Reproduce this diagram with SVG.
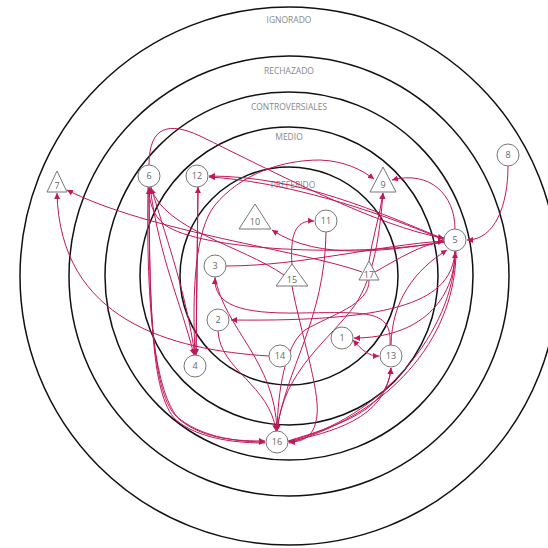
<svg xmlns="http://www.w3.org/2000/svg" width="548" height="548" viewBox="0 0 548 548">
<defs>
<marker id="ah" markerUnits="userSpaceOnUse" markerWidth="7" markerHeight="7" refX="6" refY="3.5" orient="auto-start-reverse">
<path d="M0,0.5 L6,3.5 L0,6.5 Z" fill="#c2185b"/>
</marker>
<style>
.ring{fill:none;stroke:#111;stroke-width:1.5}
.rl{font-family:"Open Sans","Liberation Sans",sans-serif;font-size:8.5px;fill:#888;text-anchor:middle}
.e{fill:none;stroke:#c2185b;stroke-width:1;marker-end:url(#ah)}
.b{marker-start:url(#ah)}
.n{fill:#fff;stroke:#777;stroke-width:1}
.t{font-family:"Open Sans","Liberation Sans",sans-serif;font-size:9px;fill:#666;text-anchor:middle}
</style>
</defs>
<rect width="548" height="548" fill="#fff"/>
<g id="rings">
<circle class="ring" cx="289" cy="276" r="269"/>
<circle class="ring" cx="289" cy="276" r="220"/>
<circle class="ring" cx="289" cy="276" r="184"/>
<circle class="ring" cx="289" cy="276" r="149"/>
<circle class="ring" cx="289" cy="276" r="109"/>
<text class="rl" x="289" y="22.5">IGNORADO</text>
<text class="rl" x="289" y="74">RECHAZADO</text>
<text class="rl" x="289" y="110">CONTROVERSIALES</text>
<text class="rl" x="289" y="140">MEDIO</text>
<text class="rl" x="293" y="188">PREFERIDO</text>
</g>
<g id="connectors">
<path class="e" d="M508,166 C508,205 495,240 467,240"/>
<path class="e" d="M455,229 C455,195 430,170 392,180"/>
<path class="e" d="M149,165 C149,125 170,122 200,136 C270,170 380,228 444,238"/>
<path class="e" d="M444,239 C380,213 300,176 209,176"/>
<path class="e" d="M444,240 C370,208 280,181 209,177"/>
<path class="e" d="M362,272 C300,250 150,232 67,190"/>
<path class="e" d="M269,356 C170,350 60,320 57,193"/>
<path class="e" d="M444,242 C390,250 320,262 272,230"/>
<path class="e" d="M292,265 C290,235 295,220 314,221"/>
<path class="e" d="M226,266 C300,266 380,245 444,241"/>
<path class="e" d="M369,261 C372,240 380,215 383,193"/>
<path class="e" d="M277,431 C283,370 330,340 355,305 C375,275 380,230 383,193"/>
<path class="e" d="M375,272 C400,258 420,245 444,241"/>
<path class="e" d="M455,251 C452,300 400,322 231,320"/>
<path class="e" d="M455,251 C455,300 420,338 354,338"/>
<path class="e b" d="M353,340 C362,350 368,356 379,356"/>
<path class="e" d="M391,345 C392,300 415,270 447,250"/>
<path class="e" d="M390,345 C392,310 370,312 300,313 C240,314 214,305 215,278"/>
<path class="e" d="M288,442 C330,432 386,420 391,368"/>
<path class="e" d="M288,441 C340,425 388,410 391,368"/>
<path class="e" d="M456,251 C456,330 400,410 289,443"/>
<path class="e" d="M289,441 C380,420 455,330 455,252"/>
<path class="e" d="M198,187 L196,355"/>
<path class="e" d="M196,355 L198,187"/>
<path class="e" d="M150,187 C160,260 180,300 194,355"/>
<path class="e" d="M151,187 C170,250 185,290 195,355"/>
<path class="e" d="M149,187 C149,300 152,390 175,415 C200,438 240,442 265,442"/>
<path class="e" d="M148,187 C146,310 155,395 180,420 C205,440 240,441 265,441"/>
<path class="e" d="M265,443 C240,443 200,440 176,420 C150,395 150,300 149,188"/>
<path class="e" d="M218,331 C220,370 270,385 276,431"/>
<path class="e" d="M215,277 C225,330 275,360 277,431"/>
<path class="e" d="M326,232 C325,320 285,370 277,431"/>
<path class="e" d="M292,286 C300,330 320,390 317,415 C315,435 305,442 289,442"/>
<path class="e" d="M369,280 C370,305 330,315 305,330 C285,345 278,390 277,431"/>
<path class="e" d="M284,275 C240,245 165,230 151,188"/>
<path class="e" d="M444,242 C350,258 200,250 165,225 C152,215 149,200 149,188"/>
<path class="e" d="M195,355 C192,290 195,230 215,205 C240,175 280,160 320,160 C345,161 362,170 374,179"/>
</g>
<g id="n1"><circle class="n" cx="342" cy="338" r="11"/><text class="t" x="342" y="341">1</text></g>
<g id="n2"><circle class="n" cx="218" cy="320" r="11"/><text class="t" x="218" y="323">2</text></g>
<g id="n3"><circle class="n" cx="215" cy="266" r="11"/><text class="t" x="215" y="269">3</text></g>
<g id="n4"><circle class="n" cx="195" cy="366" r="11"/><text class="t" x="195" y="369">4</text></g>
<g id="n5"><circle class="n" cx="455" cy="240" r="11"/><text class="t" x="455" y="243">5</text></g>
<g id="n6"><circle class="n" cx="149" cy="176" r="11"/><text class="t" x="149" y="179">6</text></g>
<g id="n7"><polygon class="n" points="57,171 67,192 47,192"/><text class="t" x="57" y="189">7</text></g>
<g id="n8"><circle class="n" cx="508" cy="155" r="11"/><text class="t" x="508" y="158">8</text></g>
<g id="n9"><polygon class="n" points="383,167 396,192 370,192"/><text class="t" x="383" y="188">9</text></g>
<g id="n10"><polygon class="n" points="255,204 271,229 239,229"/><text class="t" x="255" y="225">10</text></g>
<g id="n11"><circle class="n" cx="326" cy="221" r="11"/><text class="t" x="326" y="224">11</text></g>
<g id="n12"><circle class="n" cx="197" cy="176" r="11"/><text class="t" x="197" y="179">12</text></g>
<g id="n13"><circle class="n" cx="391" cy="356" r="11"/><text class="t" x="391" y="359">13</text></g>
<g id="n14"><circle class="n" cx="280" cy="356" r="11"/><text class="t" x="280" y="359">14</text></g>
<g id="n15"><polygon class="n" points="292,264 308,286 276,286"/><text class="t" x="292" y="283">15</text></g>
<g id="n16"><circle class="n" cx="277" cy="442" r="11"/><text class="t" x="277" y="445">16</text></g>
<g id="n17"><polygon class="n" points="369,261 379,280 359,280"/><text class="t" x="369" y="278">17</text></g>
</svg>
